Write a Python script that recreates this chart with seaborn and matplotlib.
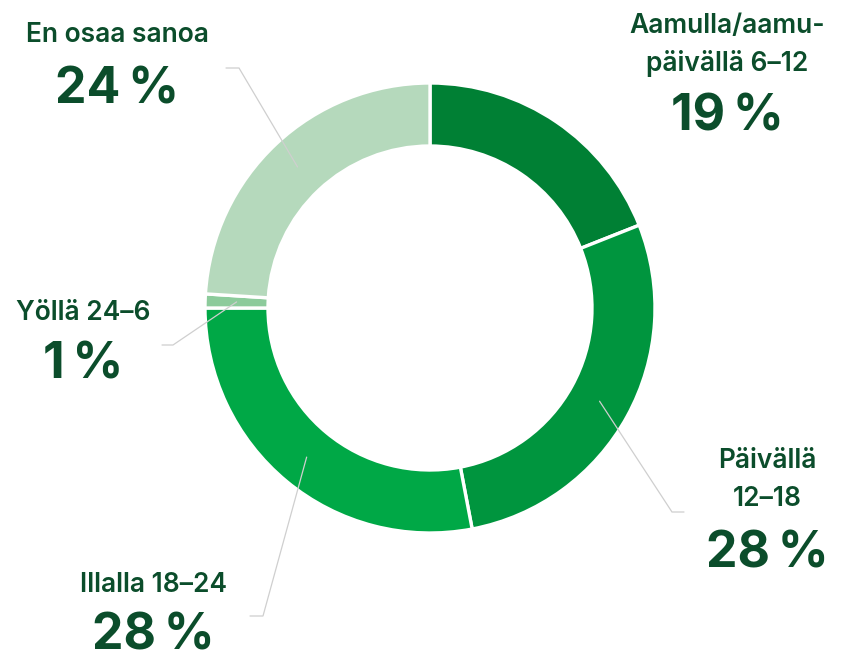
import matplotlib
matplotlib.use("Agg")
import matplotlib.pyplot as plt
import seaborn as sns
import numpy as np

categories = ["Aamulla/aamu-\npäivällä 6–12", "Päivällä\n12–18", "Illalla 18–24", "Yöllä 24–6", "En osaa sanoa"]
values = [19, 28, 28, 1, 24]
pct_labels = ["19\u202f%", "28\u202f%", "28\u202f%", "1\u202f%", "24\u202f%"]
colors = ["#008034", "#00953e", "#00a846", "#8ccb9b", "#b5d9bc"]

sns.set_theme(style="white")
plt.rcParams['font.family'] = ['Inter', 'DejaVu Sans']

W, H = 848, 660
fig = plt.figure(figsize=(W / 100, H / 100), dpi=100)
ax = fig.add_axes([0, 0, 1, 1])
ax.set_xlim(0, W)
ax.set_ylim(0, H)
ax.set_aspect("equal")
ax.axis("off")

cx, cy, R = 430, H - 308, 225
width = 63
wedges, _ = ax.pie(values, colors=colors, startangle=90, counterclock=False,
                   center=(cx, cy), radius=R, frame=True,
                   wedgeprops=dict(width=width, edgecolor="white", linewidth=2.4))
ax.set_xlim(0, W)
ax.set_ylim(0, H)
ax.axis("off")

text_color = "#0b4d2b"
line_color = "#cfcfcf"

layout = {
    0: dict(x=727, ly=45, pct_y=117, line=None),
    1: dict(x=767, ly=480, pct_y=554, line=((672, 512), (684, 512))),
    2: dict(x=153, ly=585, pct_y=636, line=((263, 616), (250, 616))),
    3: dict(x=83, ly=313, pct_y=365, line=((173, 345), (162, 345))),
    4: dict(x=117, ly=35, pct_y=90, line=((239, 68), (226, 68))),
}

for i, w in enumerate(wedges):
    L = layout[i]
    ax.text(L["x"], H - L["ly"], categories[i], ha="center", va="center",
            fontsize=19, fontweight="semibold", color=text_color, linespacing=1.55)
    ax.text(L["x"], H - L["pct_y"], pct_labels[i], ha="center", va="center",
            fontsize=36, fontweight="bold", color=text_color)
    if L["line"] is not None:
        ang = np.deg2rad((w.theta1 + w.theta2) / 2)
        r = R - width / 2
        sx, sy = cx + r * np.cos(ang), cy + r * np.sin(ang)
        (ex, ey), (hx, hy) = L["line"]
        ax.plot([sx, ex, hx], [sy, H - ey, H - hy], color=line_color, lw=0.9,
                solid_joinstyle="miter")

fig.savefig("out.png", dpi=100)
